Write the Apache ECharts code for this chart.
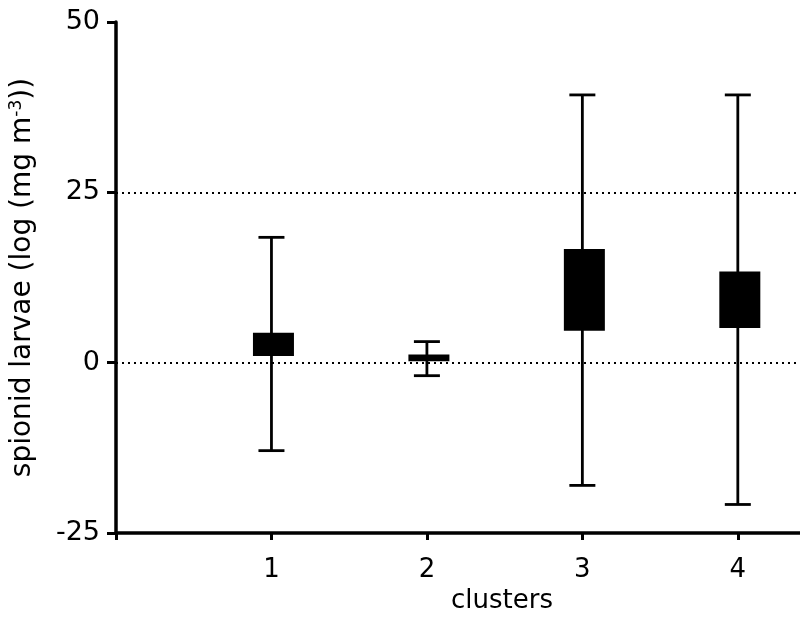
<!DOCTYPE html>
<html>
<head>
<meta charset="utf-8">
<script src="https://cdn.jsdelivr.net/npm/echarts@6/dist/echarts.min.js"></script>
<style>
  html, body { margin: 0; padding: 0; background: #fff; }
  #chart { width: 800px; height: 619px; }
</style>
</head>
<body>
<div id="chart"></div>
<script>
// Spionid larvae per cluster: whisker ends and box limits
const clusters = [1, 2, 3, 4];
const whiskerLow  = [-12.9, -1.9, -18.0, -20.8];
const boxLow      = [1.0, 0.2, 4.7, 5.1];
const boxHigh     = [4.4, 1.2, 16.7, 13.4];
const whiskerHigh = [18.4, 3.1, 39.3, 39.3];
const xTicks = [0, 1, 2, 3, 4];
const yTicks = [-25, 0, 25, 50];
const refLines = [0, 25];

const FONT = 'DejaVu Sans';
const BOX_W = 41;
const CAP_W = 26;

const data = clusters.map((c, i) => [c, whiskerLow[i], boxLow[i], boxHigh[i], whiskerHigh[i]]);

function renderBox(params, api) {
  const x = api.value(0);
  const pMin = api.coord([x, api.value(1)]);
  const pQ1 = api.coord([x, api.value(2)]);
  const pQ3 = api.coord([x, api.value(3)]);
  const pMax = api.coord([x, api.value(4)]);
  const cx = pMin[0];
  const lineStyle = { stroke: '#000', lineWidth: 2.8 };
  return {
    type: 'group',
    children: [
      { type: 'line', shape: { x1: cx, y1: pMax[1], x2: cx, y2: pMin[1] }, style: lineStyle },
      { type: 'line', shape: { x1: cx - CAP_W / 2, y1: pMax[1], x2: cx + CAP_W / 2, y2: pMax[1] }, style: lineStyle },
      { type: 'line', shape: { x1: cx - CAP_W / 2, y1: pMin[1], x2: cx + CAP_W / 2, y2: pMin[1] }, style: lineStyle },
      { type: 'rect', shape: { x: cx - BOX_W / 2 + 2, y: pQ3[1], width: BOX_W, height: pQ1[1] - pQ3[1] }, style: { fill: '#000' } }
    ]
  };
}

const chart = echarts.init(document.getElementById('chart'), null, { renderer: 'canvas' });
chart.setOption({
  backgroundColor: '#fff',
  animation: false,
  grid: { left: 116, right: 0, top: 22, bottom: 84 },
  xAxis: {
    type: 'value',
    min: 0,
    max: 4.4,
    interval: 1,
    name: 'clusters',
    nameLocation: 'middle',
    nameGap: 53,
    nameTextStyle: { fontFamily: FONT, fontSize: 26, color: '#000', padding: [0, 0, 0, 88] },
    axisLine: { onZero: false, lineStyle: { color: '#000', width: 3.5 } },
    axisTick: { length: 7, customValues: xTicks, lineStyle: { color: '#000', width: 3 } },
    axisLabel: {
      fontFamily: FONT, fontSize: 26, color: '#000', margin: 24,
      customValues: clusters
    },
    splitLine: { show: false }
  },
  yAxis: {
    type: 'value',
    min: yTicks[0],
    max: yTicks[yTicks.length - 1],
    interval: 25,
    name: '{t|spionid larvae (log (mg m}{s|-3}{t|))}',
    nameLocation: 'middle',
    nameGap: 78,
    nameTextStyle: {
      rich: {
        t: { fontFamily: FONT, fontSize: 28, color: '#000' },
        s: { fontFamily: FONT, fontSize: 17, color: '#000', padding: [0, 0, 13, 0] }
      }
    },
    axisLine: { onZero: false, lineStyle: { color: '#000', width: 3.5 } },
    axisTick: { length: 9, lineStyle: { color: '#000', width: 3 } },
    axisLabel: { fontFamily: FONT, fontSize: 27, color: '#000', margin: 16 },
    splitLine: { show: false }
  },
  series: [{
    type: 'custom',
    renderItem: renderBox,
    data: data,
    encode: { x: 0, y: [1, 2, 3, 4] },
    markLine: {
      silent: true,
      symbol: 'none',
      label: { show: false },
      lineStyle: { color: '#000', type: [2, 4], width: 2 },
      data: refLines.map(v => ({ yAxis: v }))
    }
  }]
});
</script>
</body>
</html>
